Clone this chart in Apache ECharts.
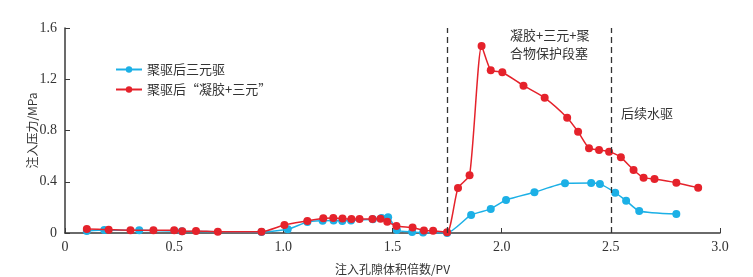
<!DOCTYPE html>
<html>
<head>
<meta charset="utf-8">
<script src="https://cdn.jsdelivr.net/npm/echarts@6/dist/echarts.min.js"></script>
<style>
  html, body { margin: 0; padding: 0; background: #fff; }
</style>
</head>
<body>
<div id="chart" style="width: 753px; height: 277px;"></div>
<script>
// 聚驱后三元驱
const ternaryPv = [0.10, 0.18, 0.34, 0.535, 0.90, 1.02, 1.11, 1.18, 1.23, 1.27, 1.31, 1.41, 1.45, 1.48, 1.52, 1.59, 1.64, 1.75, 1.86, 1.95, 2.02, 2.15, 2.29, 2.41, 2.45, 2.52, 2.57, 2.63, 2.80];
const ternaryP = [0.015, 0.023, 0.021, 0.013, 0.008, 0.029, 0.086, 0.096, 0.098, 0.094, 0.098, 0.107, 0.117, 0.123, 0.023, 0.008, 0.004, 0.0, 0.141, 0.188, 0.258, 0.318, 0.388, 0.391, 0.383, 0.315, 0.252, 0.172, 0.148];

// 聚驱后“凝胶+三元”
const gelPv = [0.10, 0.20, 0.30, 0.405, 0.50, 0.537, 0.60, 0.70, 0.90, 1.005, 1.11, 1.183, 1.229, 1.271, 1.312, 1.349, 1.408, 1.445, 1.476, 1.518, 1.592, 1.644, 1.686, 1.75, 1.80, 1.853, 1.908, 1.95, 2.003, 2.10, 2.197, 2.30, 2.35, 2.40, 2.446, 2.492, 2.546, 2.604, 2.65, 2.70, 2.80, 2.90];
const gelP = [0.031, 0.026, 0.021, 0.021, 0.021, 0.013, 0.016, 0.010, 0.010, 0.063, 0.094, 0.115, 0.117, 0.113, 0.109, 0.109, 0.109, 0.112, 0.088, 0.055, 0.043, 0.020, 0.017, 0.005, 0.352, 0.451, 1.46, 1.27, 1.255, 1.15, 1.055, 0.90, 0.79, 0.662, 0.648, 0.635, 0.591, 0.492, 0.432, 0.422, 0.393, 0.354];

// 阶段分界 (PV)
const stageLines = [1.75, 2.5];
const seriesNames = ['聚驱后三元驱', '聚驱后“凝胶+三元”'];

const chart = echarts.init(document.getElementById('chart'), null, { renderer: 'canvas' });

const cjk = '"Noto Sans CJK SC", sans-serif';
const axisColor = '#3a3a3a';

const toPairs = (xs, ys) => xs.map((x, i) => [x, ys[i]]);

const option = {
  animation: false,
  grid: { left: 65, right: 33, top: 28, bottom: 44, outerBoundsMode: 'none' },
  legend: {
    orient: 'vertical',
    left: 110,
    top: 58,
    itemWidth: 26,
    itemHeight: 8,
    itemGap: 7,
    data: seriesNames,
    textStyle: { fontSize: 13, color: '#333', fontFamily: cjk }
  },
  xAxis: {
    type: 'value',
    min: 0,
    max: 3,
    interval: 0.5,
    name: '注入孔隙体积倍数/PV',
    nameLocation: 'middle',
    nameGap: 30,
    nameMoveOverlap: false,
    nameTextStyle: { fontSize: 12, color: '#333', fontFamily: cjk },
    axisLine: { lineStyle: { color: axisColor, width: 1.5 } },
    axisTick: { inside: true, length: 5, lineStyle: { color: axisColor } },
    axisLabel: {
      fontSize: 14, color: '#333', fontFamily: '"Liberation Serif", serif', margin: 7,
      formatter: v => (v === 0 ? '0' : v.toFixed(1))
    },
    splitLine: { show: false }
  },
  yAxis: {
    type: 'value',
    min: 0,
    max: 1.6,
    interval: 0.4,
    name: '注入压力/MPa',
    nameLocation: 'middle',
    nameGap: 27,
    nameMoveOverlap: false,
    nameTextStyle: { fontSize: 12, color: '#333', fontFamily: cjk },
    axisLine: { show: true, lineStyle: { color: axisColor, width: 1.5 } },
    axisTick: { show: true, inside: true, length: 5, lineStyle: { color: axisColor } },
    axisLabel: {
      fontSize: 14, color: '#333', fontFamily: '"Liberation Serif", serif', margin: 8,
      formatter: v => (v === 0 ? '0' : v.toFixed(1))
    },
    splitLine: { show: false }
  },
  series: [
    {
      name: seriesNames[0],
      type: 'line',
      smooth: 0.2,
      symbol: 'circle',
      symbolSize: 8,
      lineStyle: { width: 1.5, color: '#1cb0e6' },
      itemStyle: { color: '#1cb0e6' },
      data: toPairs(ternaryPv, ternaryP),
      z: 2
    },
    {
      name: seriesNames[1],
      type: 'line',
      smooth: 0.2,
      symbol: 'circle',
      symbolSize: 8,
      lineStyle: { width: 1.5, color: '#e5222b' },
      itemStyle: { color: '#e5222b' },
      data: toPairs(gelPv, gelP),
      z: 3,
      markLine: {
        silent: true,
        symbol: 'none',
        label: { show: false },
        lineStyle: { type: [6, 4], color: '#333', width: 1.3 },
        data: stageLines.map(v => ({ xAxis: v }))
      }
    }
  ],
  graphic: [
    {
      type: 'text', left: 510, top: 26,
      style: {
        text: '凝胶+三元+聚\n合物保护段塞', fill: '#333', align: 'center',
        font: '13px "Noto Sans CJK SC", sans-serif', lineHeight: 18
      }
    },
    {
      type: 'text', left: 621, top: 107,
      style: { text: '后续水驱', fill: '#333', font: '13px "Noto Sans CJK SC", sans-serif' }
    }
  ]
};

chart.setOption(option);
</script>
</body>
</html>
